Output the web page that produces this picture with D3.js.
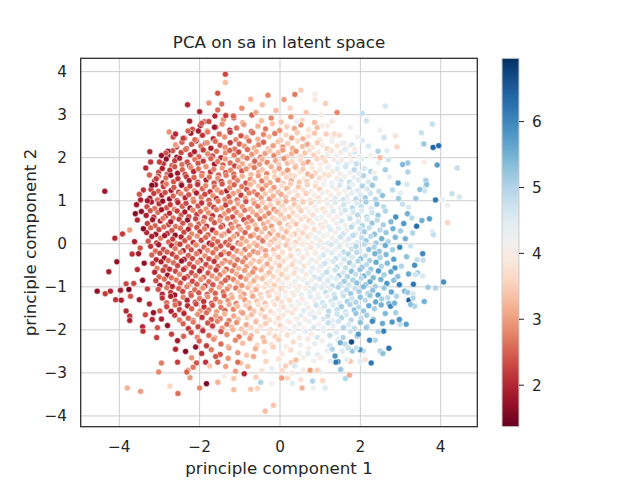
<!DOCTYPE html>
<html><head><meta charset="utf-8">
<script src="https://cdn.jsdelivr.net/npm/d3@7"></script>
<style>body{margin:0;background:#fff}svg{display:block}text{font-family:"DejaVu Sans",sans-serif;fill:#262626}</style>
</head><body><svg id="c" width="640" height="480"></svg>
<script>
const chartTitle = "PCA on sa in latent space";
const xLabel = "principle component 1";
const yLabel = "principle component 2";
const xTicks = [-4, -2, 0, 2, 4];
const yTicks = [-4, -3, -2, -1, 0, 1, 2, 3, 4];
const cTicks = [2, 3, 4, 5, 6];
const xDomain = [-4.96, 4.91];
const yDomain = [-4.25, 4.31];
const cDomain = [1.37, 6.96];

// samples: [principle component 1, principle component 2, sa]
const coreTop = [
[-1.88,2.84,2.6],[-1.62,2.97,2.0],[-1.41,2.88,2.9],[-1.15,2.93,2.4],[-0.93,2.81,3.1],[-0.70,2.99,2.5],[-0.46,2.86,3.3],[-0.22,2.92,2.8],[0.03,2.83,3.4],[0.27,2.95,2.9],[0.55,2.87,3.6],[0.86,2.82,3.3],
[-2.18,2.66,2.4],[-1.98,2.75,1.9],[-1.81,2.62,2.7],[-1.60,2.71,2.2],[-1.44,2.78,2.9],[-1.25,2.64,2.0],[-1.08,2.69,2.6],[-0.90,2.77,3.0],[-0.71,2.61,2.4],[-0.55,2.73,3.2],[-0.36,2.67,2.7],[-0.19,2.79,3.4],[-0.01,2.63,2.9],[0.17,2.72,3.5],[0.36,2.68,3.1],[0.52,2.76,2.9],[0.71,2.65,3.8],[0.93,2.70,3.3],[1.18,2.74,4.0],
[-2.38,2.45,2.3],[-2.22,2.57,1.8],[-2.09,2.41,2.5],[-1.93,2.52,2.1],[-1.80,2.60,2.7],[-1.66,2.44,2.0],[-1.51,2.55,2.6],[-1.38,2.48,2.9],[-1.24,2.59,2.2],[-1.10,2.42,2.8],[-0.97,2.51,2.4],[-0.83,2.47,3.1],[-0.68,2.58,2.6],[-0.55,2.43,3.2],[-0.41,2.54,2.8],[-0.27,2.49,3.4],[-0.13,2.56,2.7],[0.01,2.40,3.3],[0.15,2.53,3.6],[0.29,2.46,3.0],[0.43,2.58,3.5],[0.57,2.44,3.2],[0.71,2.50,3.8],[0.86,2.57,3.4],[1.00,2.42,3.9],[1.15,2.55,3.5],[1.31,2.47,4.1],[1.48,2.52,3.7],
[-2.58,2.25,2.2],[-2.44,2.36,2.5],[-2.33,2.21,1.8],[-2.20,2.31,2.4],[-2.09,2.39,2.1],[-1.97,2.27,2.7],[-1.85,2.34,2.3],[-1.72,2.22,1.9],[-1.61,2.38,2.6],[-1.49,2.29,2.4],[-1.37,2.24,2.9],[-1.24,2.35,2.2],[-1.13,2.20,2.7],[-1.01,2.32,2.5],[-0.89,2.27,3.0],[-0.77,2.39,2.6],[-0.64,2.23,3.2],[-0.53,2.30,2.8],[-0.41,2.36,2.5],[-0.29,2.21,3.3],[-0.17,2.28,3.0],[-0.05,2.37,3.4],[0.07,2.25,2.9],[0.19,2.33,3.5],[0.31,2.22,3.2],[0.44,2.39,3.7],[0.56,2.26,3.3],[0.68,2.31,3.1],[0.80,2.24,3.8],[0.93,2.35,3.5],[1.05,2.29,4.0],[1.17,2.21,3.6],[1.29,2.38,4.2],[1.42,2.27,3.8],[1.55,2.33,4.4],[1.67,2.23,4.0],[1.79,2.30,4.6],
[-2.79,2.05,2.0],[-2.67,2.16,2.4],[-2.57,2.01,1.7],[-2.46,2.12,2.3],[-2.35,2.19,2.6],[-2.23,2.07,2.1],[-2.13,2.14,1.9],[-2.02,2.02,2.5],[-1.91,2.18,2.2],[-1.80,2.09,2.8],[-1.68,2.04,2.3],[-1.58,2.15,2.6],[-1.47,2.00,2.1],[-1.36,2.11,2.9],[-1.25,2.17,2.5],[-1.14,2.06,2.7],[-1.03,2.13,2.3],[-0.92,2.03,3.1],[-0.81,2.19,2.6],[-0.70,2.08,2.9],[-0.59,2.14,3.2],[-0.48,2.01,2.7],[-0.37,2.10,3.0],[-0.26,2.16,3.4],[-0.15,2.05,2.8],[-0.04,2.12,3.3],[0.07,2.18,3.0],[0.18,2.03,3.5],[0.29,2.09,3.2],[0.40,2.15,2.9],[0.51,2.02,3.6],[0.62,2.11,3.4],[0.73,2.17,3.8],[0.84,2.06,3.5],[0.95,2.13,3.9],[1.06,2.00,3.6],[1.17,2.08,4.1],[1.28,2.16,3.8],[1.40,2.04,4.3],[1.51,2.12,3.9],[1.62,2.19,4.5],[1.74,2.07,4.1],[1.86,2.14,4.7],[1.98,2.02,4.3],
[-2.90,1.86,2.1],[-2.83,1.97,1.7],[-2.69,1.82,2.5],[-2.62,1.93,2.2],[-2.50,1.99,1.9],[-2.44,1.84,2.6],[-2.31,1.90,2.3],[-2.25,1.81,2.0],[-2.12,1.96,2.7],[-2.04,1.87,2.4],[-1.91,1.92,2.2],[-1.85,1.80,2.9],[-1.72,1.98,2.5],[-1.63,1.85,1.8],[-1.55,1.91,2.7],[-1.42,1.83,2.4],[-1.36,1.97,3.0],[-1.24,1.88,2.6],[-1.13,1.81,2.3],[-1.05,1.94,2.9],[-0.94,1.86,3.1],[-0.82,1.99,2.7],[-0.74,1.82,3.3],[-0.63,1.92,2.5],[-0.51,1.85,3.0],[-0.45,1.96,3.2],[-0.32,1.89,2.8],[-0.23,1.80,3.4],[-0.11,1.93,3.1],[-0.03,1.84,3.5],[0.10,1.98,2.9],[0.18,1.87,3.3],[0.30,1.91,3.6],[0.39,1.81,3.2],[0.51,1.95,3.7],[0.58,1.86,3.4],[0.70,1.90,3.0],[0.79,1.83,3.8],[0.92,1.97,3.6],[1.01,1.85,4.0],[1.13,1.92,3.7],[1.22,1.81,4.2],[1.34,1.96,3.9],[1.45,1.88,4.4],[1.53,1.94,4.0],[1.66,1.84,4.6],[1.77,1.91,4.2],[1.90,1.86,4.8],[2.04,1.97,4.4],
[-3.02,1.66,2.3],[-2.93,1.75,1.9],[-2.81,1.62,2.6],[-2.74,1.71,2.1],[-2.62,1.79,2.4],[-2.55,1.64,1.8],[-2.43,1.72,2.5],[-2.36,1.61,2.2],[-2.22,1.77,2.8],[-2.15,1.68,2.0],[-2.03,1.74,2.6],[-1.94,1.63,2.3],[-1.84,1.79,2.9],[-1.73,1.67,2.1],[-1.65,1.73,2.7],[-1.53,1.60,2.5],[-1.44,1.76,3.0],[-1.35,1.65,2.3],[-1.23,1.71,2.8],[-1.15,1.62,2.6],[-1.02,1.78,3.1],[-0.95,1.69,2.4],[-0.84,1.74,2.9],[-0.72,1.61,3.3],[-0.64,1.77,2.7],[-0.53,1.66,3.1],[-0.44,1.72,3.4],[-0.33,1.63,2.8],[-0.22,1.79,3.2],[-0.14,1.68,3.5],[-0.02,1.75,3.0],[0.08,1.64,3.4],[0.19,1.71,2.9],[0.27,1.60,3.6],[0.38,1.78,3.3],[0.50,1.67,3.8],[0.57,1.73,3.5],[0.69,1.62,3.2],[0.80,1.76,3.9],[0.88,1.65,3.6],[1.00,1.72,4.1],[1.11,1.61,3.7],[1.19,1.77,4.3],[1.31,1.68,3.9],[1.42,1.74,4.5],[1.50,1.63,4.1],[1.63,1.79,4.7],[1.74,1.66,4.2],[1.85,1.72,4.9],[1.97,1.64,4.4],[2.10,1.75,4.6],[2.26,1.68,5.0],
[-3.12,1.46,1.9],[-3.03,1.57,2.3],[-2.91,1.42,2.0],[-2.84,1.53,2.6],[-2.72,1.59,1.7],[-2.65,1.44,2.4],[-2.54,1.51,2.1],[-2.46,1.40,2.7],[-2.33,1.56,2.2],[-2.26,1.47,1.9],[-2.14,1.54,2.5],[-2.05,1.43,2.3],[-1.95,1.58,2.8],[-1.84,1.48,2.0],[-1.76,1.55,2.6],[-1.64,1.41,2.4],[-1.55,1.52,2.9],[-1.46,1.45,2.2],[-1.34,1.59,2.7],[-1.25,1.43,3.0],[-1.14,1.54,2.5],[-1.06,1.47,2.8],[-0.94,1.57,3.2],[-0.85,1.41,2.4],[-0.74,1.50,2.9],[-0.66,1.44,3.3],[-0.54,1.58,3.0],[-0.45,1.46,2.7],[-0.34,1.53,3.4],[-0.25,1.42,3.1],[-0.13,1.56,3.5],[-0.05,1.48,2.9],[0.07,1.40,3.3],[0.16,1.55,3.6],[0.28,1.47,3.2],[0.36,1.58,3.7],[0.48,1.43,3.4],[0.59,1.51,3.9],[0.67,1.45,3.5],[0.79,1.57,3.3],[0.90,1.42,4.0],[0.98,1.53,3.7],[1.10,1.46,4.2],[1.21,1.59,3.8],[1.29,1.41,4.4],[1.41,1.52,4.0],[1.52,1.47,4.6],[1.60,1.56,4.2],[1.73,1.43,4.8],[1.84,1.54,4.3],[1.95,1.48,4.5],[2.08,1.58,5.0],[2.20,1.44,4.6],[2.37,1.52,4.9]
];
const coreUpper = [
[-3.21,1.26,2.2],[-3.10,1.37,1.8],[-3.03,1.22,2.5],[-2.90,1.33,2.1],[-2.83,1.39,2.7],[-2.71,1.24,1.9],[-2.64,1.31,2.4],[-2.52,1.20,2.2],[-2.45,1.36,1.7],[-2.33,1.27,2.6],[-2.24,1.34,2.3],[-2.13,1.23,2.9],[-2.05,1.38,2.1],[-1.93,1.28,2.5],[-1.85,1.35,2.8],[-1.74,1.21,2.2],[-1.63,1.32,2.6],[-1.56,1.25,3.0],[-1.44,1.39,2.4],[-1.33,1.23,1.9],[-1.25,1.30,2.8],[-1.14,1.37,2.5],[-1.03,1.22,3.1],[-0.95,1.33,2.7],[-0.83,1.26,2.4],[-0.74,1.38,3.2],[-0.65,1.21,2.9],[-0.53,1.34,3.4],[-0.44,1.27,2.7],[-0.35,1.36,3.1],[-0.23,1.24,3.5],[-0.15,1.31,3.0],[-0.04,1.20,3.3],[0.05,1.35,3.7],[0.17,1.28,3.2],[0.26,1.39,3.5],[0.37,1.23,3.9],[0.46,1.32,3.4],[0.57,1.25,3.8],[0.68,1.37,3.6],[0.77,1.22,4.1],[0.88,1.34,3.7],[0.99,1.27,3.5],[1.09,1.38,4.2],[1.18,1.21,3.9],[1.30,1.33,4.4],[1.41,1.26,4.0],[1.49,1.36,4.6],[1.61,1.23,4.2],[1.72,1.31,4.8],[1.81,1.38,4.3],[1.93,1.24,4.5],[2.05,1.34,5.0],[2.17,1.27,4.6],[2.30,1.36,5.2],[2.46,1.22,4.8],
[-3.24,1.06,1.8],[-3.14,1.17,2.2],[-3.05,1.02,2.6],[-2.94,1.13,2.0],[-2.86,1.19,2.3],[-2.75,1.04,1.7],[-2.66,1.11,2.5],[-2.56,1.00,2.2],[-2.47,1.16,2.8],[-2.36,1.07,2.0],[-2.27,1.14,2.4],[-2.16,1.03,2.6],[-2.08,1.18,1.9],[-1.96,1.08,2.7],[-1.87,1.15,2.3],[-1.77,1.01,2.5],[-1.67,1.12,2.9],[-1.58,1.05,2.1],[-1.46,1.19,2.6],[-1.37,1.03,2.8],[-1.27,1.10,2.4],[-1.16,1.17,3.0],[-1.07,1.02,2.7],[-0.97,1.13,2.2],[-0.86,1.06,3.1],[-0.77,1.18,2.8],[-0.67,1.01,3.3],[-0.56,1.14,2.6],[-0.47,1.07,3.0],[-0.37,1.16,3.4],[-0.26,1.04,2.9],[-0.17,1.11,3.2],[-0.07,1.00,3.6],[0.03,1.15,3.1],[0.14,1.08,3.4],[0.23,1.19,3.8],[0.34,1.03,3.3],[0.44,1.12,3.6],[0.54,1.05,4.0],[0.65,1.17,3.5],[0.75,1.02,3.8],[0.85,1.14,4.1],[0.96,1.07,3.7],[1.05,1.18,4.3],[1.16,1.01,3.9],[1.27,1.13,4.0],[1.37,1.06,4.5],[1.47,1.16,4.1],[1.58,1.03,4.7],[1.68,1.11,4.3],[1.79,1.18,4.4],[1.89,1.04,4.9],[2.00,1.14,4.5],[2.12,1.07,5.1],[2.25,1.17,4.7],[2.38,1.03,5.0],[2.55,1.12,5.3],
[-3.31,0.86,2.3],[-3.20,0.97,1.9],[-3.12,0.82,2.6],[-3.01,0.93,2.1],[-2.92,0.99,1.7],[-2.82,0.84,2.4],[-2.73,0.91,2.2],[-2.63,0.80,2.8],[-2.54,0.96,2.0],[-2.43,0.87,2.5],[-2.34,0.94,2.3],[-2.24,0.83,1.8],[-2.15,0.98,2.7],[-2.04,0.88,2.4],[-1.95,0.95,2.1],[-1.84,0.81,2.9],[-1.75,0.92,2.5],[-1.65,0.85,2.3],[-1.54,0.99,2.7],[-1.45,0.83,3.0],[-1.35,0.90,2.2],[-1.24,0.97,2.8],[-1.15,0.82,2.6],[-1.05,0.93,3.1],[-0.94,0.86,2.9],[-0.85,0.98,2.4],[-0.74,0.81,3.2],[-0.64,0.94,3.0],[-0.55,0.87,2.7],[-0.44,0.96,3.4],[-0.35,0.84,3.1],[-0.24,0.91,3.5],[-0.15,0.80,2.9],[-0.04,0.95,3.3],[0.06,0.88,3.6],[0.15,0.99,3.2],[0.26,0.83,3.8],[0.36,0.92,3.4],[0.46,0.85,3.7],[0.57,0.97,3.5],[0.66,0.82,4.0],[0.77,0.94,3.6],[0.87,0.87,4.2],[0.97,0.98,3.9],[1.07,0.81,3.7],[1.18,0.93,4.3],[1.28,0.86,4.0],[1.38,0.96,4.5],[1.49,0.83,4.2],[1.59,0.91,4.7],[1.70,0.98,4.3],[1.80,0.84,4.9],[1.91,0.94,4.5],[2.02,0.87,4.8],[2.14,0.97,5.1],[2.27,0.82,4.6],[2.41,0.92,5.3],[2.58,0.86,4.9],
[-3.33,0.66,1.9],[-3.23,0.77,2.4],[-3.14,0.62,2.1],[-3.04,0.73,2.6],[-2.95,0.79,1.8],[-2.85,0.64,2.3],[-2.75,0.71,2.0],[-2.66,0.60,2.7],[-2.56,0.76,2.2],[-2.46,0.67,2.5],[-2.37,0.74,1.9],[-2.27,0.63,2.4],[-2.17,0.78,2.8],[-2.07,0.68,2.2],[-1.98,0.75,2.6],[-1.88,0.61,2.3],[-1.78,0.72,2.9],[-1.68,0.65,2.1],[-1.58,0.79,2.7],[-1.48,0.63,2.4],[-1.38,0.70,3.0],[-1.28,0.77,2.6],[-1.18,0.62,2.3],[-1.08,0.73,2.9],[-0.98,0.66,3.1],[-0.88,0.78,2.7],[-0.78,0.61,2.5],[-0.68,0.74,3.2],[-0.58,0.67,2.9],[-0.48,0.76,3.4],[-0.38,0.64,3.0],[-0.28,0.71,2.8],[-0.18,0.60,3.5],[-0.08,0.75,3.2],[0.02,0.68,3.4],[0.12,0.79,3.7],[0.22,0.63,3.3],[0.32,0.72,3.6],[0.42,0.65,3.9],[0.52,0.77,3.5],[0.62,0.62,3.8],[0.72,0.74,4.1],[0.82,0.67,3.7],[0.92,0.78,4.0],[1.02,0.61,4.3],[1.12,0.73,3.9],[1.22,0.66,4.2],[1.32,0.76,4.5],[1.42,0.63,4.1],[1.52,0.71,4.4],[1.62,0.78,4.7],[1.72,0.64,4.3],[1.82,0.74,4.6],[1.93,0.67,4.9],[2.04,0.77,4.5],[2.16,0.62,5.0],[2.29,0.72,4.7],[2.44,0.66,5.2],[2.62,0.76,5.0],
[-3.30,0.47,2.2],[-3.17,0.56,1.8],[-3.11,0.42,2.5],[-2.98,0.53,2.0],[-2.91,0.59,2.7],[-2.78,0.44,2.3],[-2.72,0.51,1.9],[-2.60,0.40,2.6],[-2.51,0.57,2.2],[-2.42,0.48,2.4],[-2.30,0.55,1.7],[-2.23,0.43,2.7],[-2.10,0.58,2.3],[-2.02,0.46,2.5],[-1.91,0.52,2.9],[-1.83,0.41,2.1],[-1.71,0.57,2.6],[-1.63,0.49,2.4],[-1.50,0.54,3.0],[-1.43,0.42,2.2],[-1.31,0.59,2.8],[-1.22,0.45,2.5],[-1.11,0.52,3.1],[-1.03,0.40,2.7],[-0.90,0.56,2.3],[-0.83,0.47,3.0],[-0.70,0.53,2.8],[-0.62,0.44,3.3],[-0.50,0.58,2.6],[-0.41,0.46,3.1],[-0.30,0.51,3.4],[-0.21,0.41,3.0],[-0.09,0.55,3.6],[-0.01,0.48,3.2],[0.11,0.59,3.5],[0.20,0.43,3.3],[0.31,0.52,3.8],[0.40,0.46,3.4],[0.52,0.57,3.7],[0.60,0.41,4.0],[0.72,0.54,3.6],[0.81,0.48,3.9],[0.92,0.58,4.2],[1.01,0.44,3.8],[1.13,0.51,4.1],[1.21,0.40,4.4],[1.33,0.56,4.0],[1.42,0.47,4.3],[1.54,0.53,4.6],[1.62,0.43,4.2],[1.74,0.59,4.8],[1.83,0.45,4.4],[1.95,0.52,4.6],[2.05,0.42,5.0],[2.17,0.57,4.7],[2.29,0.48,5.2],[2.42,0.55,4.9],[2.57,0.44,5.1],[2.76,0.51,5.4],
[-3.32,0.26,2.0],[-3.22,0.37,2.5],[-3.09,0.22,1.8],[-3.01,0.33,2.3],[-2.89,0.39,2.6],[-2.80,0.24,2.1],[-2.69,0.31,2.4],[-2.61,0.20,1.7],[-2.48,0.36,2.6],[-2.39,0.27,2.3],[-2.28,0.34,2.0],[-2.20,0.23,2.8],[-2.07,0.38,2.4],[-1.99,0.28,2.2],[-1.88,0.35,2.7],[-1.79,0.21,2.5],[-1.68,0.32,1.9],[-1.59,0.25,2.8],[-1.47,0.39,2.5],[-1.39,0.23,3.0],[-1.27,0.30,2.3],[-1.19,0.37,2.9],[-1.07,0.22,2.7],[-0.98,0.33,3.1],[-0.87,0.26,2.5],[-0.79,0.38,3.0],[-0.66,0.21,3.2],[-0.58,0.34,2.8],[-0.46,0.27,3.4],[-0.37,0.36,3.1],[-0.25,0.24,2.9],[-0.17,0.31,3.5],[-0.05,0.20,3.2],[0.04,0.35,3.6],[0.16,0.28,3.3],[0.24,0.39,3.7],[0.36,0.23,3.4],[0.45,0.32,3.9],[0.56,0.25,3.6],[0.65,0.37,3.8],[0.77,0.22,4.1],[0.85,0.34,3.7],[0.97,0.27,4.3],[1.06,0.38,3.9],[1.17,0.21,4.2],[1.26,0.33,4.5],[1.38,0.26,4.1],[1.46,0.36,4.4],[1.58,0.24,4.7],[1.67,0.31,4.3],[1.78,0.39,4.9],[1.88,0.23,4.5],[1.99,0.35,4.7],[2.10,0.28,5.1],[2.22,0.37,4.8],[2.35,0.22,5.3],[2.49,0.32,4.9],[2.64,0.26,5.2],[2.81,0.35,5.5],
[-3.28,0.06,2.4],[-3.19,0.17,1.9],[-3.07,0.02,2.2],[-2.97,0.13,2.7],[-2.87,0.19,1.8],[-2.77,0.04,2.5],[-2.67,0.11,2.2],[-2.57,0.00,2.8],[-2.46,0.16,2.0],[-2.37,0.07,2.4],[-2.26,0.14,2.6],[-2.16,0.03,2.1],[-2.06,0.18,2.9],[-1.96,0.08,2.3],[-1.85,0.15,2.6],[-1.76,0.01,1.9],[-1.65,0.12,2.8],[-1.55,0.05,2.5],[-1.45,0.19,3.0],[-1.35,0.03,2.4],[-1.24,0.10,2.7],[-1.15,0.17,3.1],[-1.04,0.02,2.6],[-0.94,0.13,2.9],[-0.84,0.06,3.2],[-0.73,0.18,2.8],[-0.64,0.01,3.3],[-0.53,0.14,3.0],[-0.43,0.07,2.7],[-0.33,0.16,3.5],[-0.22,0.04,3.2],[-0.13,0.11,3.4],[-0.02,0.00,3.7],[0.08,0.15,3.3],[0.19,0.08,3.6],[0.28,0.19,3.9],[0.39,0.03,3.5],[0.48,0.12,3.8],[0.59,0.05,4.1],[0.69,0.17,3.7],[0.79,0.02,4.0],[0.89,0.14,4.3],[1.00,0.07,3.9],[1.09,0.18,4.2],[1.20,0.01,4.5],[1.30,0.13,4.1],[1.40,0.06,4.4],[1.51,0.16,4.7],[1.61,0.04,4.3],[1.71,0.11,4.6],[1.82,0.19,4.9],[1.92,0.03,4.5],[2.03,0.14,4.8],[2.14,0.07,5.2],[2.26,0.17,4.9],[2.39,0.02,5.1],[2.53,0.12,5.5],[2.69,0.05,5.0],[2.87,0.15,5.4]
];
const coreLower = [
[-3.22,-0.06,2.1],[-3.10,-0.17,2.6],[-3.02,-0.02,1.8],[-2.90,-0.13,2.3],[-2.81,-0.19,2.5],[-2.70,-0.04,2.0],[-2.61,-0.11,2.7],[-2.49,-0.01,2.2],[-2.41,-0.16,1.9],[-2.29,-0.07,2.6],[-2.21,-0.14,2.4],[-2.09,-0.03,2.8],[-2.00,-0.18,2.1],[-1.89,-0.08,2.5],[-1.80,-0.15,2.9],[-1.69,-0.02,2.3],[-1.59,-0.12,2.7],[-1.48,-0.05,2.4],[-1.39,-0.19,3.0],[-1.28,-0.03,2.6],[-1.18,-0.10,2.2],[-1.07,-0.17,2.9],[-0.98,-0.01,3.1],[-0.87,-0.13,2.7],[-0.77,-0.06,3.3],[-0.66,-0.18,2.9],[-0.57,-0.04,3.1],[-0.46,-0.11,3.4],[-0.36,-0.16,3.0],[-0.26,-0.02,3.6],[-0.16,-0.14,3.3],[-0.05,-0.07,3.5],[0.05,-0.19,3.8],[0.15,-0.03,3.4],[0.25,-0.12,3.7],[0.36,-0.05,4.0],[0.45,-0.17,3.6],[0.56,-0.01,3.9],[0.66,-0.13,4.2],[0.76,-0.08,3.8],[0.87,-0.18,4.1],[0.96,-0.04,4.4],[1.07,-0.11,4.0],[1.17,-0.16,4.3],[1.27,-0.02,4.6],[1.37,-0.14,4.2],[1.48,-0.07,4.5],[1.58,-0.19,4.8],[1.68,-0.03,4.4],[1.78,-0.12,4.7],[1.89,-0.06,5.0],[1.99,-0.17,4.6],[2.10,-0.01,4.9],[2.21,-0.13,5.3],[2.34,-0.08,5.0],[2.47,-0.18,5.2],[2.62,-0.04,5.6],[2.80,-0.14,5.1],
[-3.19,-0.26,2.5],[-3.08,-0.37,2.0],[-2.99,-0.22,2.3],[-2.88,-0.33,1.8],[-2.78,-0.39,2.6],[-2.68,-0.24,2.2],[-2.58,-0.31,2.4],[-2.48,-0.20,2.8],[-2.38,-0.36,2.0],[-2.28,-0.27,2.5],[-2.18,-0.34,2.3],[-2.08,-0.23,2.7],[-1.98,-0.38,2.2],[-1.87,-0.28,2.9],[-1.77,-0.35,2.4],[-1.67,-0.21,2.6],[-1.57,-0.32,3.0],[-1.47,-0.25,2.3],[-1.37,-0.39,2.8],[-1.27,-0.23,2.5],[-1.16,-0.30,3.1],[-1.06,-0.37,2.7],[-0.96,-0.22,3.3],[-0.86,-0.33,2.8],[-0.76,-0.26,3.0],[-0.66,-0.38,3.4],[-0.55,-0.21,3.1],[-0.45,-0.34,3.6],[-0.35,-0.27,3.2],[-0.25,-0.36,3.5],[-0.14,-0.24,3.8],[-0.04,-0.31,3.4],[0.06,-0.20,3.7],[0.16,-0.35,4.0],[0.27,-0.28,3.6],[0.37,-0.39,3.9],[0.47,-0.23,4.2],[0.57,-0.32,3.8],[0.68,-0.25,4.1],[0.78,-0.37,4.4],[0.88,-0.22,4.0],[0.98,-0.33,4.3],[1.08,-0.26,4.6],[1.19,-0.38,4.2],[1.29,-0.21,4.5],[1.39,-0.34,4.8],[1.49,-0.27,4.4],[1.60,-0.36,4.7],[1.70,-0.24,5.0],[1.80,-0.31,4.6],[1.91,-0.20,4.9],[2.01,-0.35,5.3],[2.12,-0.28,4.8],[2.23,-0.39,5.1],[2.36,-0.23,5.5],[2.49,-0.32,5.0],[2.64,-0.25,5.4],[2.83,-0.36,5.7],
[-3.17,-0.46,2.2],[-3.06,-0.57,2.7],[-2.96,-0.42,1.9],[-2.85,-0.53,2.4],[-2.75,-0.59,2.1],[-2.65,-0.44,2.6],[-2.55,-0.51,2.3],[-2.45,-0.40,1.8],[-2.35,-0.56,2.7],[-2.25,-0.47,2.4],[-2.15,-0.54,2.2],[-2.05,-0.43,2.9],[-1.95,-0.58,2.5],[-1.84,-0.48,2.3],[-1.74,-0.55,2.8],[-1.64,-0.41,2.1],[-1.54,-0.52,2.6],[-1.44,-0.45,3.0],[-1.34,-0.59,2.4],[-1.24,-0.43,2.9],[-1.13,-0.50,2.6],[-1.03,-0.57,3.2],[-0.93,-0.42,2.8],[-0.83,-0.53,3.0],[-0.73,-0.46,3.4],[-0.63,-0.58,2.9],[-0.52,-0.41,3.3],[-0.42,-0.54,3.6],[-0.32,-0.47,3.1],[-0.22,-0.56,3.5],[-0.11,-0.44,3.8],[-0.01,-0.51,3.4],[0.09,-0.40,3.7],[0.19,-0.55,4.1],[0.30,-0.48,3.6],[0.40,-0.59,3.9],[0.50,-0.43,4.3],[0.60,-0.52,3.8],[0.71,-0.45,4.1],[0.81,-0.57,4.5],[0.91,-0.42,4.0],[1.01,-0.53,4.4],[1.11,-0.46,4.7],[1.22,-0.58,4.2],[1.32,-0.41,4.6],[1.42,-0.54,4.9],[1.52,-0.47,4.4],[1.63,-0.56,4.8],[1.73,-0.44,5.1],[1.83,-0.51,4.6],[1.94,-0.40,5.0],[2.04,-0.55,5.3],[2.15,-0.48,4.9],[2.26,-0.59,5.2],[2.39,-0.43,5.6],[2.52,-0.52,5.0],[2.67,-0.45,5.4],[2.86,-0.56,5.8],
[-3.12,-0.66,2.0],[-3.01,-0.77,2.5],[-2.91,-0.62,2.2],[-2.80,-0.73,1.8],[-2.70,-0.79,2.6],[-2.60,-0.64,2.3],[-2.50,-0.71,2.8],[-2.40,-0.60,2.1],[-2.30,-0.76,2.5],[-2.20,-0.67,2.3],[-2.10,-0.74,2.7],[-2.00,-0.63,1.9],[-1.90,-0.78,2.6],[-1.79,-0.68,2.4],[-1.69,-0.75,2.9],[-1.59,-0.61,2.2],[-1.49,-0.72,2.7],[-1.39,-0.65,3.1],[-1.29,-0.79,2.5],[-1.19,-0.63,2.8],[-1.08,-0.70,3.2],[-0.98,-0.77,2.6],[-0.88,-0.62,3.0],[-0.78,-0.73,3.3],[-0.68,-0.66,2.9],[-0.58,-0.78,3.5],[-0.47,-0.61,3.2],[-0.37,-0.74,3.7],[-0.27,-0.67,3.3],[-0.17,-0.76,3.6],[-0.06,-0.64,3.9],[0.04,-0.71,3.5],[0.14,-0.60,3.8],[0.24,-0.75,4.2],[0.35,-0.68,3.7],[0.45,-0.79,4.1],[0.55,-0.63,4.4],[0.65,-0.72,3.9],[0.76,-0.65,4.3],[0.86,-0.77,4.6],[0.96,-0.62,4.2],[1.06,-0.73,4.5],[1.16,-0.66,4.8],[1.27,-0.78,4.4],[1.37,-0.61,4.7],[1.47,-0.74,5.1],[1.57,-0.67,4.6],[1.68,-0.76,5.0],[1.78,-0.64,5.3],[1.88,-0.71,4.8],[1.99,-0.60,5.2],[2.09,-0.75,5.5],[2.20,-0.68,5.0],[2.32,-0.79,5.4],[2.45,-0.63,5.8],[2.59,-0.72,5.1],[2.76,-0.65,5.6],[2.93,-0.76,5.3],
[-3.09,-0.86,2.3],[-2.99,-0.97,1.9],[-2.88,-0.82,2.6],[-2.78,-0.93,2.2],[-2.68,-0.99,2.0],[-2.58,-0.84,2.7],[-2.48,-0.91,2.4],[-2.38,-0.80,2.1],[-2.28,-0.96,2.8],[-2.18,-0.87,2.3],[-2.07,-0.94,2.5],[-1.97,-0.83,2.9],[-1.87,-0.98,2.2],[-1.77,-0.88,2.6],[-1.67,-0.95,2.4],[-1.57,-0.81,3.0],[-1.46,-0.92,2.7],[-1.36,-0.85,2.5],[-1.26,-0.99,3.1],[-1.16,-0.83,2.8],[-1.06,-0.90,3.3],[-0.95,-0.97,2.9],[-0.85,-0.82,3.1],[-0.75,-0.93,3.5],[-0.65,-0.86,3.2],[-0.55,-0.98,3.7],[-0.44,-0.81,3.3],[-0.34,-0.94,3.6],[-0.24,-0.87,3.9],[-0.14,-0.96,3.5],[-0.04,-0.84,3.8],[0.07,-0.91,4.1],[0.17,-0.80,3.7],[0.27,-0.95,4.0],[0.37,-0.88,4.3],[0.48,-0.99,3.9],[0.58,-0.83,4.2],[0.68,-0.92,4.5],[0.78,-0.85,4.1],[0.89,-0.97,4.4],[0.99,-0.82,4.7],[1.09,-0.93,4.3],[1.19,-0.86,4.6],[1.30,-0.98,4.9],[1.40,-0.81,4.5],[1.50,-0.94,4.8],[1.60,-0.87,5.1],[1.71,-0.96,4.7],[1.81,-0.84,5.0],[1.91,-0.91,5.3],[2.02,-0.80,4.9],[2.13,-0.95,5.2],[2.24,-0.88,5.6],[2.37,-0.99,5.1],[2.51,-0.83,5.5],[2.66,-0.92,5.8],[2.83,-0.85,5.3],
[-3.03,-1.06,2.4],[-2.93,-1.17,2.0],[-2.82,-1.02,2.7],[-2.72,-1.13,2.2],[-2.62,-1.19,1.8],[-2.52,-1.04,2.5],[-2.42,-1.11,2.3],[-2.32,-1.00,2.8],[-2.22,-1.16,2.1],[-2.12,-1.07,2.6],[-2.02,-1.14,2.4],[-1.92,-1.03,2.9],[-1.81,-1.18,2.2],[-1.71,-1.08,2.7],[-1.61,-1.15,2.5],[-1.51,-1.01,3.1],[-1.41,-1.12,2.6],[-1.31,-1.05,2.9],[-1.21,-1.19,3.2],[-1.10,-1.03,2.7],[-1.00,-1.10,3.4],[-0.90,-1.17,3.0],[-0.80,-1.02,3.3],[-0.70,-1.13,3.6],[-0.60,-1.06,3.2],[-0.49,-1.18,3.5],[-0.39,-1.01,3.8],[-0.29,-1.14,3.4],[-0.19,-1.07,3.7],[-0.09,-1.16,4.0],[0.02,-1.04,3.6],[0.12,-1.11,3.9],[0.22,-1.00,4.2],[0.32,-1.15,3.8],[0.43,-1.08,4.1],[0.53,-1.19,4.4],[0.63,-1.03,4.0],[0.73,-1.12,4.3],[0.84,-1.05,4.6],[0.94,-1.17,4.2],[1.04,-1.02,4.5],[1.14,-1.13,4.8],[1.25,-1.06,4.4],[1.35,-1.18,4.7],[1.45,-1.01,5.0],[1.56,-1.14,4.6],[1.66,-1.07,4.9],[1.76,-1.16,5.2],[1.87,-1.04,4.8],[1.97,-1.11,5.1],[2.08,-1.00,5.4],[2.19,-1.15,5.0],[2.31,-1.08,5.3],[2.44,-1.19,5.7],[2.59,-1.03,5.2],[2.77,-1.12,5.6]
];
const coreBottom = [
[-2.93,-1.26,2.1],[-2.82,-1.37,2.6],[-2.72,-1.22,1.9],[-2.61,-1.33,2.4],[-2.51,-1.39,2.2],[-2.41,-1.24,2.8],[-2.31,-1.31,2.0],[-2.21,-1.20,2.5],[-2.11,-1.36,2.3],[-2.00,-1.27,2.7],[-1.90,-1.34,2.1],[-1.80,-1.23,2.9],[-1.70,-1.38,2.4],[-1.60,-1.28,2.6],[-1.49,-1.35,3.0],[-1.39,-1.21,2.5],[-1.29,-1.32,2.8],[-1.19,-1.25,3.2],[-1.09,-1.39,2.7],[-0.98,-1.23,3.3],[-0.88,-1.30,3.0],[-0.78,-1.37,3.5],[-0.68,-1.22,3.1],[-0.58,-1.33,3.4],[-0.47,-1.26,3.7],[-0.37,-1.38,3.3],[-0.27,-1.21,3.6],[-0.17,-1.34,3.9],[-0.06,-1.27,3.5],[0.04,-1.36,3.8],[0.14,-1.24,4.1],[0.24,-1.31,3.7],[0.35,-1.20,4.0],[0.45,-1.35,4.3],[0.55,-1.28,3.9],[0.65,-1.39,4.2],[0.76,-1.23,4.5],[0.86,-1.32,4.1],[0.96,-1.25,4.4],[1.06,-1.37,4.7],[1.17,-1.22,4.3],[1.27,-1.33,4.6],[1.37,-1.26,4.9],[1.48,-1.38,4.5],[1.58,-1.21,4.8],[1.68,-1.34,5.1],[1.79,-1.27,4.7],[1.89,-1.36,5.0],[2.00,-1.24,5.3],[2.12,-1.31,4.9],[2.24,-1.20,5.2],[2.38,-1.35,5.6],[2.53,-1.28,5.1],[2.71,-1.39,5.4],
[-2.82,-1.46,2.3],[-2.71,-1.57,1.9],[-2.61,-1.42,2.6],[-2.50,-1.53,2.2],[-2.40,-1.59,2.8],[-2.30,-1.44,2.0],[-2.20,-1.51,2.5],[-2.09,-1.40,2.3],[-1.99,-1.56,2.9],[-1.89,-1.47,2.1],[-1.78,-1.54,2.6],[-1.68,-1.43,2.4],[-1.58,-1.58,3.0],[-1.47,-1.48,2.7],[-1.37,-1.55,2.5],[-1.27,-1.41,3.1],[-1.16,-1.52,2.8],[-1.06,-1.45,3.3],[-0.96,-1.59,2.9],[-0.85,-1.43,3.5],[-0.75,-1.50,3.1],[-0.65,-1.57,3.4],[-0.54,-1.42,3.7],[-0.44,-1.53,3.3],[-0.34,-1.46,3.9],[-0.23,-1.58,3.6],[-0.13,-1.41,3.8],[-0.03,-1.54,4.1],[0.08,-1.47,3.7],[0.18,-1.56,4.0],[0.28,-1.44,4.3],[0.39,-1.51,3.9],[0.49,-1.40,4.2],[0.59,-1.55,4.5],[0.70,-1.48,4.1],[0.80,-1.59,4.4],[0.90,-1.43,4.7],[1.01,-1.52,4.3],[1.11,-1.45,4.6],[1.21,-1.57,4.9],[1.32,-1.42,4.5],[1.42,-1.53,4.8],[1.53,-1.46,5.1],[1.63,-1.58,4.7],[1.74,-1.41,5.0],[1.85,-1.54,5.3],[1.96,-1.47,4.9],[2.08,-1.56,5.2],[2.21,-1.44,5.6],[2.35,-1.51,5.1],[2.52,-1.42,5.5],
[-2.62,-1.66,2.2],[-2.50,-1.77,2.7],[-2.39,-1.62,2.0],[-2.28,-1.73,2.5],[-2.16,-1.79,2.3],[-2.05,-1.64,2.9],[-1.94,-1.71,2.1],[-1.83,-1.60,2.6],[-1.71,-1.76,2.4],[-1.60,-1.67,3.0],[-1.49,-1.74,2.7],[-1.38,-1.63,3.2],[-1.27,-1.78,2.8],[-1.15,-1.68,3.1],[-1.04,-1.75,3.4],[-0.93,-1.61,3.0],[-0.82,-1.72,3.6],[-0.71,-1.65,3.3],[-0.59,-1.79,3.5],[-0.48,-1.63,3.8],[-0.37,-1.70,3.4],[-0.26,-1.77,3.7],[-0.15,-1.62,4.0],[-0.04,-1.73,3.6],[0.08,-1.66,3.9],[0.19,-1.78,4.2],[0.30,-1.61,3.8],[0.41,-1.74,4.1],[0.52,-1.67,4.4],[0.63,-1.76,4.0],[0.75,-1.64,4.3],[0.86,-1.71,4.6],[0.97,-1.60,4.2],[1.08,-1.75,4.5],[1.19,-1.68,4.8],[1.31,-1.79,4.4],[1.42,-1.63,4.7],[1.53,-1.72,5.0],[1.65,-1.65,4.6],[1.77,-1.77,4.9],[1.89,-1.62,5.2],[2.02,-1.73,4.8],[2.16,-1.66,5.1],[2.32,-1.76,5.4],
[-2.41,-1.86,2.5],[-2.28,-1.97,2.1],[-2.16,-1.82,2.7],[-2.04,-1.93,2.3],[-1.92,-1.99,2.9],[-1.80,-1.84,2.4],[-1.68,-1.91,2.2],[-1.56,-1.80,2.8],[-1.44,-1.96,3.0],[-1.32,-1.87,2.6],[-1.20,-1.94,3.2],[-1.08,-1.83,2.9],[-0.96,-1.98,3.4],[-0.84,-1.88,3.1],[-0.72,-1.95,3.6],[-0.60,-1.81,3.3],[-0.48,-1.92,3.8],[-0.36,-1.85,3.5],[-0.24,-1.99,3.7],[-0.12,-1.83,4.0],[0.00,-1.90,3.6],[0.12,-1.97,4.2],[0.24,-1.82,3.9],[0.36,-1.93,4.1],[0.48,-1.86,4.4],[0.60,-1.98,4.0],[0.72,-1.81,4.3],[0.84,-1.94,4.6],[0.96,-1.87,4.2],[1.08,-1.96,4.5],[1.20,-1.84,4.8],[1.32,-1.91,4.4],[1.45,-1.80,4.7],[1.58,-1.95,5.0],[1.71,-1.88,4.6],[1.85,-1.97,4.9],[2.00,-1.83,5.3],[2.17,-1.92,5.0],
[-2.21,-2.06,2.3],[-2.06,-2.17,2.8],[-1.92,-2.02,2.1],[-1.77,-2.13,2.6],[-1.62,-2.19,3.0],[-1.47,-2.04,2.4],[-1.32,-2.11,2.9],[-1.17,-2.00,3.2],[-1.02,-2.16,2.7],[-0.87,-2.07,3.4],[-0.72,-2.14,3.1],[-0.57,-2.03,3.6],[-0.42,-2.18,3.3],[-0.27,-2.08,3.8],[-0.12,-2.15,3.5],[0.03,-2.01,4.0],[0.18,-2.12,3.7],[0.33,-2.05,4.2],[0.48,-2.19,3.9],[0.63,-2.03,4.4],[0.78,-2.10,4.1],[0.93,-2.17,4.6],[1.08,-2.02,4.3],[1.24,-2.13,4.8],[1.40,-2.06,4.5],[1.57,-2.18,5.0],[1.75,-2.04,4.7],[1.92,-2.14,5.2],
[-2.01,-2.26,2.5],[-1.83,-2.37,2.2],[-1.65,-2.22,2.9],[-1.47,-2.33,2.6],[-1.29,-2.39,3.1],[-1.11,-2.24,2.8],[-0.93,-2.31,3.3],[-0.75,-2.20,3.0],[-0.57,-2.36,3.6],[-0.39,-2.27,3.3],[-0.21,-2.34,3.8],[-0.03,-2.23,3.5],[0.15,-2.38,4.0],[0.33,-2.28,3.7],[0.51,-2.35,4.2],[0.69,-2.21,3.9],[0.87,-2.32,4.4],[1.05,-2.25,4.1],[1.24,-2.37,4.7],[1.44,-2.23,4.4],[1.62,-2.33,4.9],
[-1.71,-2.46,2.7],[-1.49,-2.57,2.4],[-1.27,-2.42,3.1],[-1.05,-2.53,2.9],[-0.83,-2.59,3.4],[-0.61,-2.44,3.2],[-0.39,-2.51,3.7],[-0.17,-2.40,3.5],[0.05,-2.56,3.9],[0.27,-2.47,3.7],[0.49,-2.54,4.2],[0.71,-2.43,4.0],[0.94,-2.58,4.5],[1.18,-2.48,4.3],
[-1.29,-2.66,2.9],[-0.98,-2.77,3.3],[-0.66,-2.62,3.1],[-0.35,-2.73,3.6],[-0.03,-2.68,3.8],[0.28,-2.76,3.5],[0.59,-2.64,4.0],[0.84,-2.72,4.2]
];
const fringeTop = [
[-1.36,3.94,2.3],[-1.36,3.75,3.3],[-1.55,3.50,2.4],[-0.73,3.36,3.2],[-1.77,3.27,2.9],[-2.30,3.23,2.0],[-0.44,3.23,3.3],[-2.00,3.07,1.9],[-1.55,3.11,2.6],[-1.35,2.98,2.2],[-1.16,2.97,2.5],[-1.77,2.84,2.3],[-1.63,2.71,1.8],[-2.03,2.62,1.8],[-2.76,2.60,2.9],[-2.29,2.62,2.5],[-2.66,2.48,2.3],[-2.12,2.42,2.6],[-1.81,2.35,2.9],[-2.60,2.30,3.0],[-2.41,2.45,2.2],[-2.79,2.15,1.8],[-3.24,2.14,2.0],[-3.22,1.90,2.1],[-3.34,1.76,2.0],[-2.84,2.11,2.4],[-3.07,1.52,3.0],[-3.19,1.36,1.6],[-3.08,1.51,2.2],
[-2.60,2.55,2.0],[-1.95,2.80,2.4],[-2.25,2.85,1.9],[-1.45,3.25,2.6],[-0.95,3.15,2.9],[-0.60,3.05,3.1],[-0.10,3.10,3.3],[0.25,3.15,3.6],[0.65,3.05,3.4],[1.05,2.75,4.0],[1.35,2.55,3.7],[1.60,2.35,4.3],[1.85,2.20,4.0],[2.05,2.40,4.5],[1.75,2.70,4.2],[1.30,2.85,3.9],[-0.30,3.45,2.8],[0.10,3.35,3.0],
[0.52,3.57,3.5],[0.37,3.47,2.7],[0.87,3.48,4.0],[0.87,3.35,3.9],[1.13,3.26,3.5],[2.62,3.20,4.6],[2.05,3.03,4.8],[2.15,2.86,4.7],[1.42,3.05,2.8],[1.03,2.99,4.0],[0.42,2.84,4.3]
];
const fringeRight = [
[3.79,2.78,4.8],[3.52,2.58,4.8],[3.58,2.32,5.2],[3.81,2.24,6.4],[3.95,2.28,6.3],[4.41,1.76,4.8],[3.91,1.83,5.7],[3.59,1.90,4.0],[3.18,1.88,5.2],[3.05,1.84,5.4],[3.18,1.67,5.0],[3.63,1.47,5.1],[3.62,1.34,4.7],[3.16,1.38,4.6],[2.94,1.41,5.7],[2.44,2.15,5.0],[2.66,2.16,4.5],[2.91,2.25,3.6],[2.49,2.64,4.2],[2.59,2.47,4.7],[2.87,2.51,3.8],[2.49,2.00,3.3],[2.20,2.27,4.6],[2.24,2.06,4.2],[1.93,2.48,4.2],
[4.28,1.16,4.8],[4.46,1.09,4.6],[4.05,1.02,4.3],[3.87,1.02,6.2],[4.17,0.89,4.2],[3.60,1.23,4.7],[3.65,1.38,5.3],[3.48,1.26,5.3],[3.17,0.70,5.5],[3.72,0.58,5.7],[3.53,0.54,5.5],[3.40,0.41,6.3],[3.08,0.47,5.8],[3.20,0.85,4.6],[4.17,0.49,3.6],[3.79,0.28,4.5],[3.82,0.21,4.8],
[2.95,1.05,5.2],[3.05,0.92,4.8],[2.88,0.62,5.9],[3.00,0.30,5.1],[3.12,0.12,5.5],[2.98,-0.08,6.0],[3.15,-0.30,5.3],[3.02,-0.52,5.0],[3.20,-0.70,5.6],[2.97,-0.95,6.1],[3.10,-1.10,5.4],[2.90,-1.22,5.0],[3.00,1.18,4.4],[2.80,1.25,4.9],[2.72,1.55,4.4],[2.62,1.72,5.1],[2.45,1.88,4.3],[2.70,1.95,4.7],[2.35,1.65,4.1],[3.30,0.25,5.0],[3.25,-0.05,4.7],[3.35,-0.50,5.9],[3.28,0.60,4.9],[3.38,1.05,5.2],
[4.07,-0.89,5.9],[3.87,-1.03,5.0],[3.68,-1.01,5.2],[3.59,-1.34,5.5],[3.32,-0.94,6.2],[3.55,-0.23,6.0],[3.56,-0.38,4.8],[3.41,-0.37,4.8],[3.42,-0.68,5.2],[3.55,-0.75,4.6],[3.37,-0.72,4.7],[3.18,-1.13,5.2],[3.31,-1.16,4.6],[3.21,-1.31,6.5],[3.31,-1.26,5.0],[3.35,-1.45,5.0],[3.25,-1.41,5.3],[3.14,-1.87,5.7],[2.99,-1.87,4.8],[2.79,-1.82,5.8],[2.97,-1.76,5.8],[2.58,-2.03,6.1],[2.44,-2.04,5.0],[2.71,-2.43,6.2],[2.49,-2.49,5.0],[2.56,-2.55,5.3],[2.23,-2.24,6.0],[2.37,-2.24,5.0],[2.27,-2.77,6.2],[2.08,-2.49,4.8],[1.99,-2.46,5.9],[1.78,-2.28,6.7],[1.80,-2.49,5.2],[1.90,-2.42,4.8],[1.70,-2.42,4.8],
[2.62,-1.62,5.4],[2.75,-1.45,6.0],[2.88,-1.60,5.1],[2.55,-1.85,5.6],[2.68,-1.25,4.9],[2.85,-1.38,5.5],[1.50,-2.30,5.5],[1.95,-2.10,5.8],[2.15,-1.95,5.2],[2.30,-1.80,6.0]
];
const fringeBottom = [
[1.75,-2.73,3.4],[1.63,-3.13,5.0],[1.73,-3.05,3.1],[1.44,-2.74,6.0],[1.39,-2.75,6.2],[1.51,-2.92,5.2],[1.37,-2.61,5.8],[1.25,-2.73,4.5],[1.12,-3.35,4.5],[0.83,-3.35,4.3],[0.81,-3.19,5.0],[0.55,-3.35,3.2],[0.52,-3.16,3.8],[0.31,-3.24,4.5],[0.18,-3.12,3.6],[0.04,-3.12,3.0],[1.06,-3.18,3.6],[1.01,-2.98,4.4],[0.75,-2.94,3.0],[0.58,-2.93,4.1],[0.93,-2.94,3.5],[0.37,-2.84,4.6],[0.14,-2.84,3.5],[1.55,-2.49,4.5],[1.66,-2.69,4.4],[2.00,-2.73,4.5],[2.12,-2.69,3.8],
[-1.60,-2.62,2.4],[-1.35,-2.85,3.0],[-1.05,-2.75,2.6],[-0.80,-2.85,3.3],[-0.45,-2.95,3.8],[-0.20,-2.90,4.4],[0.05,-2.95,3.6],[0.40,-2.70,3.3],[0.70,-2.55,4.5],[1.00,-2.65,4.0],[1.30,-2.45,5.0],[-0.60,-3.10,3.5],[-0.20,-3.25,4.2],[0.30,-3.00,3.9],
[-2.95,-2.77,2.7],[-3.02,-2.98,2.8],[-2.55,-2.75,2.2],[-3.80,-3.35,3.2],[-3.47,-3.43,3.0],[-2.54,-3.48,2.6],[-2.74,-3.31,3.6],[-2.29,-2.94,3.0],[-1.83,-3.25,1.5],[-2.00,-3.35,2.8],[-1.55,-3.22,3.2],[-0.37,-3.89,3.3],[-0.16,-3.75,3.4],[-0.89,-3.02,2.0],[-2.08,-2.77,2.4],[-1.85,-2.75,2.1],[-2.16,-2.87,2.7],[-1.15,-3.39,3.3],[-0.73,-3.38,3.4],[-0.56,-3.36,3.6],[-0.48,-3.22,5.0],[-1.15,-3.13,3.4],[-1.39,-3.08,4.1],[-1.11,-2.96,3.0],[-2.24,-3.11,3.0],[-2.32,-2.98,2.5],[-1.75,-2.84,3.4],[-1.55,-2.75,2.5]
];
const fringeLeft = [
[-4.36,1.22,1.8],[-3.57,0.91,1.8],[-3.47,1.02,1.9],[-3.74,0.32,3.0],[-3.92,0.23,2.2],[-4.11,0.13,2.0],
[-3.68,-0.24,2.1],[-3.52,-0.23,1.8],[-4.06,-0.42,1.7],[-4.26,-0.65,1.9],[-4.55,-1.10,1.7],[-4.35,-1.16,2.2],[-4.22,-1.10,2.0],[-3.97,-1.08,1.9],[-4.09,-1.30,2.1],[-3.95,-1.31,1.9],[-3.76,-1.06,1.5],[-3.83,-0.93,2.3],[-3.64,-0.92,2.3],[-3.72,-1.22,2.4],[-3.83,-1.56,2.0],[-3.74,-1.68,2.1],[-3.74,-1.78,1.9],[-3.42,-1.93,2.0],[-3.41,-2.03,2.1],[-3.07,-2.18,2.2],[-3.18,-1.76,2.0],[-2.99,-1.56,2.5],
[-3.45,0.75,1.7],[-3.55,0.55,2.0],[-3.40,0.35,1.6],[-3.62,0.05,1.9],[-3.48,-0.10,2.4],[-3.38,-0.45,1.7],[-3.55,-0.60,2.0],[-3.42,-0.85,1.6],[-3.30,-1.05,2.2],[-3.50,-1.30,1.8],[-3.25,-1.40,2.0],[-3.15,-1.60,1.7],[-3.35,-1.65,2.3],[-2.95,-1.75,1.9],[-3.05,-1.95,2.4],[-2.80,-1.90,1.7],[-2.70,-2.10,2.2],[-2.55,-2.25,1.8],[-2.40,-2.15,2.5],[-2.60,-2.45,2.0],[-2.35,-2.50,1.6],[-2.20,-2.65,2.9],[-1.95,-2.55,2.1],[-2.10,-2.40,1.7],[-3.40,1.25,2.1],[-3.30,1.00,1.8],[-3.50,1.15,2.4],[-3.60,0.70,1.6],[-3.25,1.60,2.5],[-3.00,1.90,2.2],[-2.95,2.05,1.7]
];

const samples = [].concat(coreTop, coreUpper, coreLower, coreBottom, fringeTop, fringeRight, fringeBottom, fringeLeft);

const svg = d3.select("#c");
const L = 80.7, R = 477.3, T = 58.3, B = 426.7;
const x = d3.scaleLinear().domain(xDomain).range([L, R]);
const y = d3.scaleLinear().domain(yDomain).range([B, T]);
const color = d3.scaleSequential(d3.interpolateRdBu).domain(cDomain);
const fmt = v => String(v).replace("-", "\u2212");

svg.append("rect").attr("width", 640).attr("height", 480).attr("fill", "#fff");

const grid = svg.append("g").attr("stroke", "#cccccc").attr("stroke-width", 1);
grid.selectAll("line.gx").data(xTicks).join("line").attr("class", "gx")
  .attr("x1", d => x(d)).attr("x2", d => x(d)).attr("y1", T).attr("y2", B);
grid.selectAll("line.gy").data(yTicks).join("line").attr("class", "gy")
  .attr("y1", d => y(d)).attr("y2", d => y(d)).attr("x1", L).attr("x2", R);

svg.append("clipPath").attr("id", "pc").append("rect")
  .attr("x", L).attr("y", T).attr("width", R - L).attr("height", B - T);

svg.append("g").attr("clip-path", "url(#pc)")
  .selectAll("circle").data(samples).join("circle")
  .attr("cx", d => x(d[0])).attr("cy", d => y(d[1])).attr("r", 3.0)
  .attr("fill", d => color(d[2])).attr("stroke", "#fff").attr("stroke-width", 0.5);

svg.append("rect").attr("x", L).attr("y", T).attr("width", R - L).attr("height", B - T)
  .attr("fill", "none").attr("stroke", "#262626").attr("stroke-width", 1.25);

svg.selectAll("text.xt").data(xTicks).join("text").attr("class", "xt")
  .attr("x", d => x(d)).attr("y", 452).attr("text-anchor", "middle")
  .style("font-size", "15.3px").text(fmt);
svg.selectAll("text.yt").data(yTicks).join("text").attr("class", "yt")
  .attr("x", 67).attr("y", d => y(d) + 5.5).attr("text-anchor", "end")
  .style("font-size", "15.3px").text(fmt);

svg.append("text").attr("x", (L + R) / 2).attr("y", 48).attr("text-anchor", "middle")
  .style("font-size", "16.7px").text(chartTitle);
svg.append("text").attr("x", (L + R) / 2).attr("y", 474).attr("text-anchor", "middle")
  .style("font-size", "16.7px").text(xLabel);
svg.append("text").attr("transform", `translate(36,${(T + B) / 2}) rotate(-90)`)
  .attr("text-anchor", "middle").style("font-size", "16.7px").text(yLabel);

// colorbar
const cbL = 502, cbW = 17, cbT = 58.3, cbB = 426.7;
const cy = d3.scaleLinear().domain(cDomain).range([cbB, cbT]);
const grad = svg.append("defs").append("linearGradient").attr("id", "cbg")
  .attr("x1", 0).attr("y1", 1).attr("x2", 0).attr("y2", 0);
d3.range(0, 1.0001, 0.05).forEach(t => {
  grad.append("stop").attr("offset", t).attr("stop-color", d3.interpolateRdBu(t));
});
svg.append("rect").attr("x", cbL).attr("y", cbT).attr("width", cbW).attr("height", cbB - cbT)
  .attr("fill", "url(#cbg)").attr("stroke", "#cccccc").attr("stroke-width", 1);
svg.selectAll("line.ct").data(cTicks).join("line").attr("class", "ct")
  .attr("x1", cbL + cbW).attr("x2", cbL + cbW + 5).attr("y1", d => cy(d)).attr("y2", d => cy(d))
  .attr("stroke", "#262626").attr("stroke-width", 1);
svg.selectAll("text.ctl").data(cTicks).join("text").attr("class", "ctl")
  .attr("x", 532).attr("y", d => cy(d) + 5.5)
  .style("font-size", "15.3px").text(fmt);
</script></body></html>
